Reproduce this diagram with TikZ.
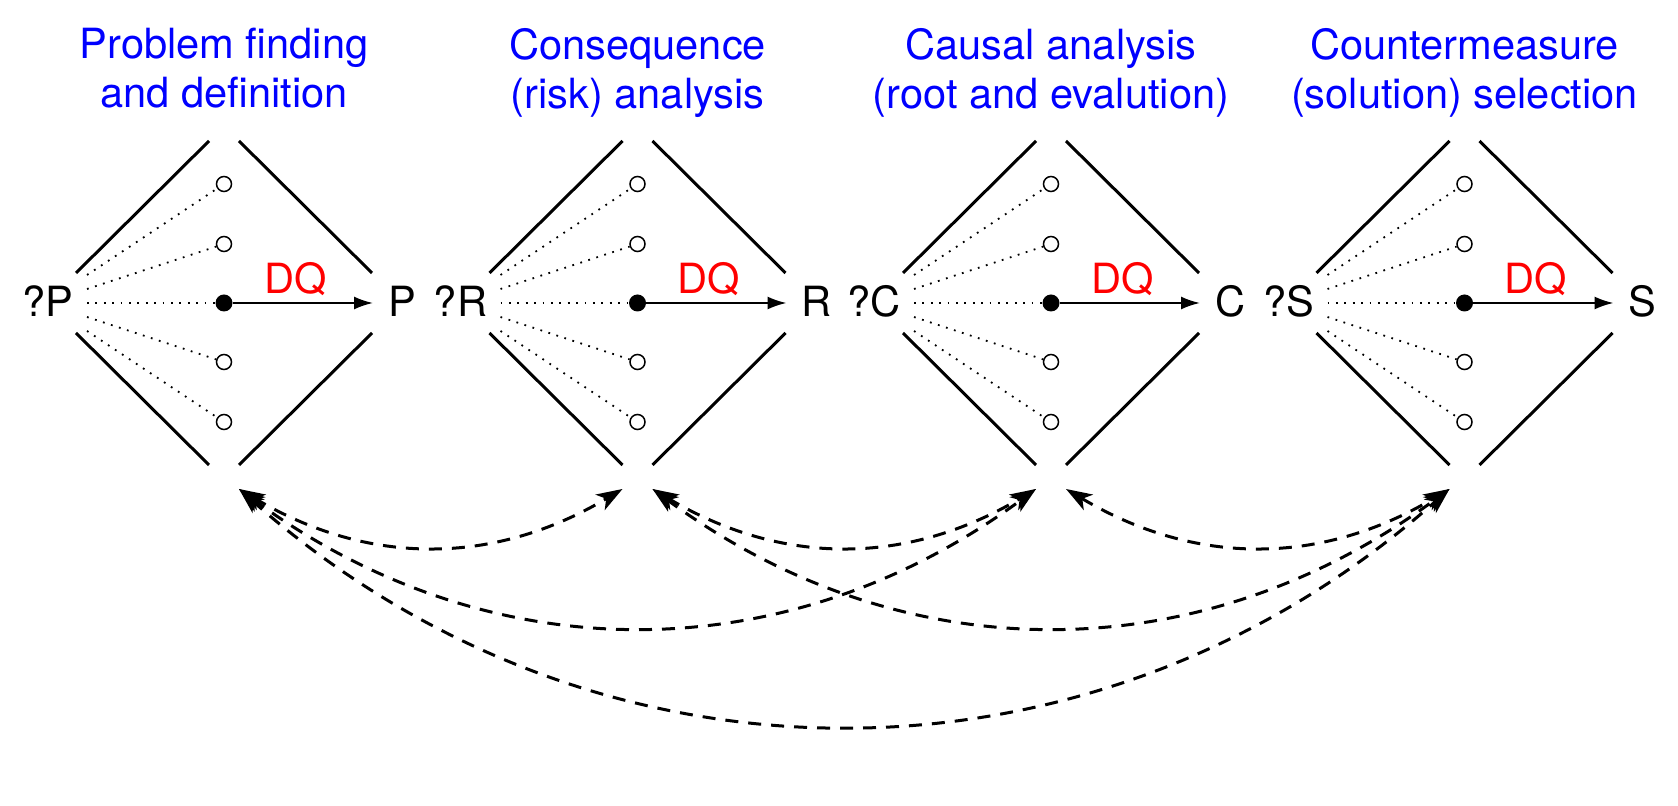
\documentclass[tikz,border=0pt]{standalone}
\usepackage{fontspec}
\setmainfont{TeX Gyre Heros}
\usetikzlibrary{arrows.meta}
\begin{document}
\begin{tikzpicture}[x=0.5pt,y=-0.5pt,
  lbl/.style={inner sep=0pt, font=\fontsize{20.8}{24.5}\selectfont},
  ttl/.style={lbl, text=blue, align=center, anchor=north},
  wall/.style={line width=1.5pt},
  fan/.style={line width=0.9pt, dash pattern=on 0.9pt off 3.3pt},
  hollow/.style={circle, draw, line width=0.75pt, fill=white, minimum size=7.5pt, inner sep=0pt},
  hub/.style={circle, fill=black, minimum size=8.5pt, inner sep=0pt},
  dq/.style={line width=1pt, -{Latex[length=9.5pt,width=6.5pt]}},
  link/.style={line width=1.5pt, dash pattern=on 6.5pt off 5pt,
    {Stealth[length=13pt,width=9pt,inset=3.5pt]}-{Stealth[length=13pt,width=9pt,inset=3.5pt]}}
]
\useasboundingbox (0,0) rectangle (1678,806);
\foreach \i/\cx/\L/\T in {
  1/224/P/{Problem finding\\and definition},
  2/637.5/R/{Consequence\\(risk) analysis},
  3/1051/C/{Causal analysis\\(root and evalution)},
  4/1464.5/S/{Countermeasure\\(solution) selection}}{
  \node[ttl] (t\i) at (\cx,28) {\T};
  \draw[wall] (\cx-148,273) -- (\cx-15,141);
  \draw[wall] (\cx+15,141) -- (\cx+148,273);
  \draw[wall] (\cx-148,333) -- (\cx-15,465);
  \draw[wall] (\cx+15,465) -- (\cx+148,333);
  \node[hub] (m\i) at (\cx,303) {};
  \node[hollow] (a\i) at (\cx,184) {};
  \node[hollow] (b\i) at (\cx,244) {};
  \node[hollow] (c\i) at (\cx,362) {};
  \node[hollow] (e\i) at (\cx,422) {};
  \coordinate (fa\i) at (\cx-137,275);
  \coordinate (fb\i) at (\cx-137,289);
  \coordinate (fm\i) at (\cx-137,303);
  \coordinate (fc\i) at (\cx-137,317);
  \coordinate (fe\i) at (\cx-137,331);
  \draw[fan] (fa\i) -- (a\i);
  \draw[fan] (fb\i) -- (b\i);
  \draw[fan] (fm\i) -- (m\i);
  \draw[fan] (fc\i) -- (c\i);
  \draw[fan] (fe\i) -- (e\i);
  \node[lbl, anchor=base east] (q\i) at (\cx-150,317) {?\L};
  \node[lbl, anchor=base west] (r\i) at (\cx+164,317) {\L};
  \coordinate (tip\i) at (\cx+149,303);
  \draw[dq] (m\i) -- (tip\i);
  \node[lbl, text=red, anchor=base west] (dq\i) at (\cx+40,294) {DQ};
  \coordinate (L\i) at (\cx-15,489);
  \coordinate (R\i) at (\cx+15,489);
}
\draw[link] (R1) .. controls +(129,77) and +(-129,77) .. (L2);
\draw[link] (R1) .. controls +(250,184) and +(-250,184) .. (L3);
\draw[link] (R1) .. controls +(356,315) and +(-356,315) .. (L4);
\draw[link] (R2) .. controls +(129,77) and +(-129,77) .. (L3);
\draw[link] (R2) .. controls +(250,184) and +(-250,184) .. (L4);
\draw[link] (R3) .. controls +(129,77) and +(-129,77) .. (L4);
\end{tikzpicture}
\end{document}
